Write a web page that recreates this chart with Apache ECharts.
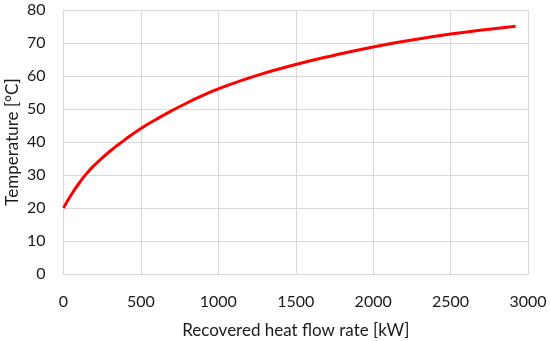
<!DOCTYPE html>
<html>
<head>
<meta charset="utf-8">
<script src="https://cdn.jsdelivr.net/npm/echarts@6/dist/echarts.min.js"></script>
<style>html,body{margin:0;padding:0;background:#fff}#c{width:550px;height:341px}</style>
</head>
<body>
<div id="c"></div>
<script>
const flowRate = [0, 50, 100, 150, 200, 300, 400, 500, 600, 700, 800, 900, 1000, 1250, 1500, 1750, 2000, 2250, 2500, 2750, 2920];
const temperature = [20, 24.0, 27.5, 30.5, 33.0, 37.2, 40.8, 44.1, 46.9, 49.5, 51.9, 54.1, 56.1, 60.2, 63.5, 66.3, 68.8, 70.9, 72.7, 74.2, 75.1];
const xTicks = [0, 500, 1000, 1500, 2000, 2500, 3000];
const yTicks = [0, 10, 20, 30, 40, 50, 60, 70, 80];

const chart = echarts.init(document.getElementById('c'));
const font = 'Lato, "Open Sans", sans-serif';
const txt = '#1a1a1a';
chart.setOption({
  animation: false,
  grid: {left: 63.5, right: 22, top: 10, bottom: 67, containLabel: false, outerBoundsMode: 'none'},
  xAxis: {
    type: 'value', min: xTicks[0], max: xTicks[xTicks.length-1], interval: 500,
    name: 'Recovered heat flow rate [kW]', nameLocation: 'middle', nameGap: 48, nameMoveOverlap: false,
    nameTextStyle: {fontFamily: font, fontSize: 17, color: txt},
    axisLine: {show: true, lineStyle: {color: '#d9d9d9', width: 1}},
    axisTick: {show: false},
    axisLabel: {fontFamily: font, fontSize: 16, color: txt, margin: 20, formatter: v => String(v)},
    splitLine: {show: true, lineStyle: {color: '#d9d9d9', width: 1}}
  },
  yAxis: {
    type: 'value', min: yTicks[0], max: yTicks[yTicks.length-1], interval: 10,
    name: 'Temperature [°C]', nameLocation: 'middle', nameGap: 42, nameMoveOverlap: false,
    nameTextStyle: {fontFamily: font, fontSize: 17, color: txt},
    axisLine: {show: true, lineStyle: {color: '#d9d9d9', width: 1}},
    axisTick: {show: false},
    axisLabel: {fontFamily: font, fontSize: 16, color: txt, margin: 18, formatter: v => String(v)},
    splitLine: {show: true, lineStyle: {color: '#d9d9d9', width: 1}}
  },
  series: [{
    type: 'line',
    data: flowRate.map((x, i) => [x, temperature[i]]),
    smooth: true,
    showSymbol: false,
    lineStyle: {color: '#ff0000', width: 3}
  }]
});
</script>
</body>
</html>
